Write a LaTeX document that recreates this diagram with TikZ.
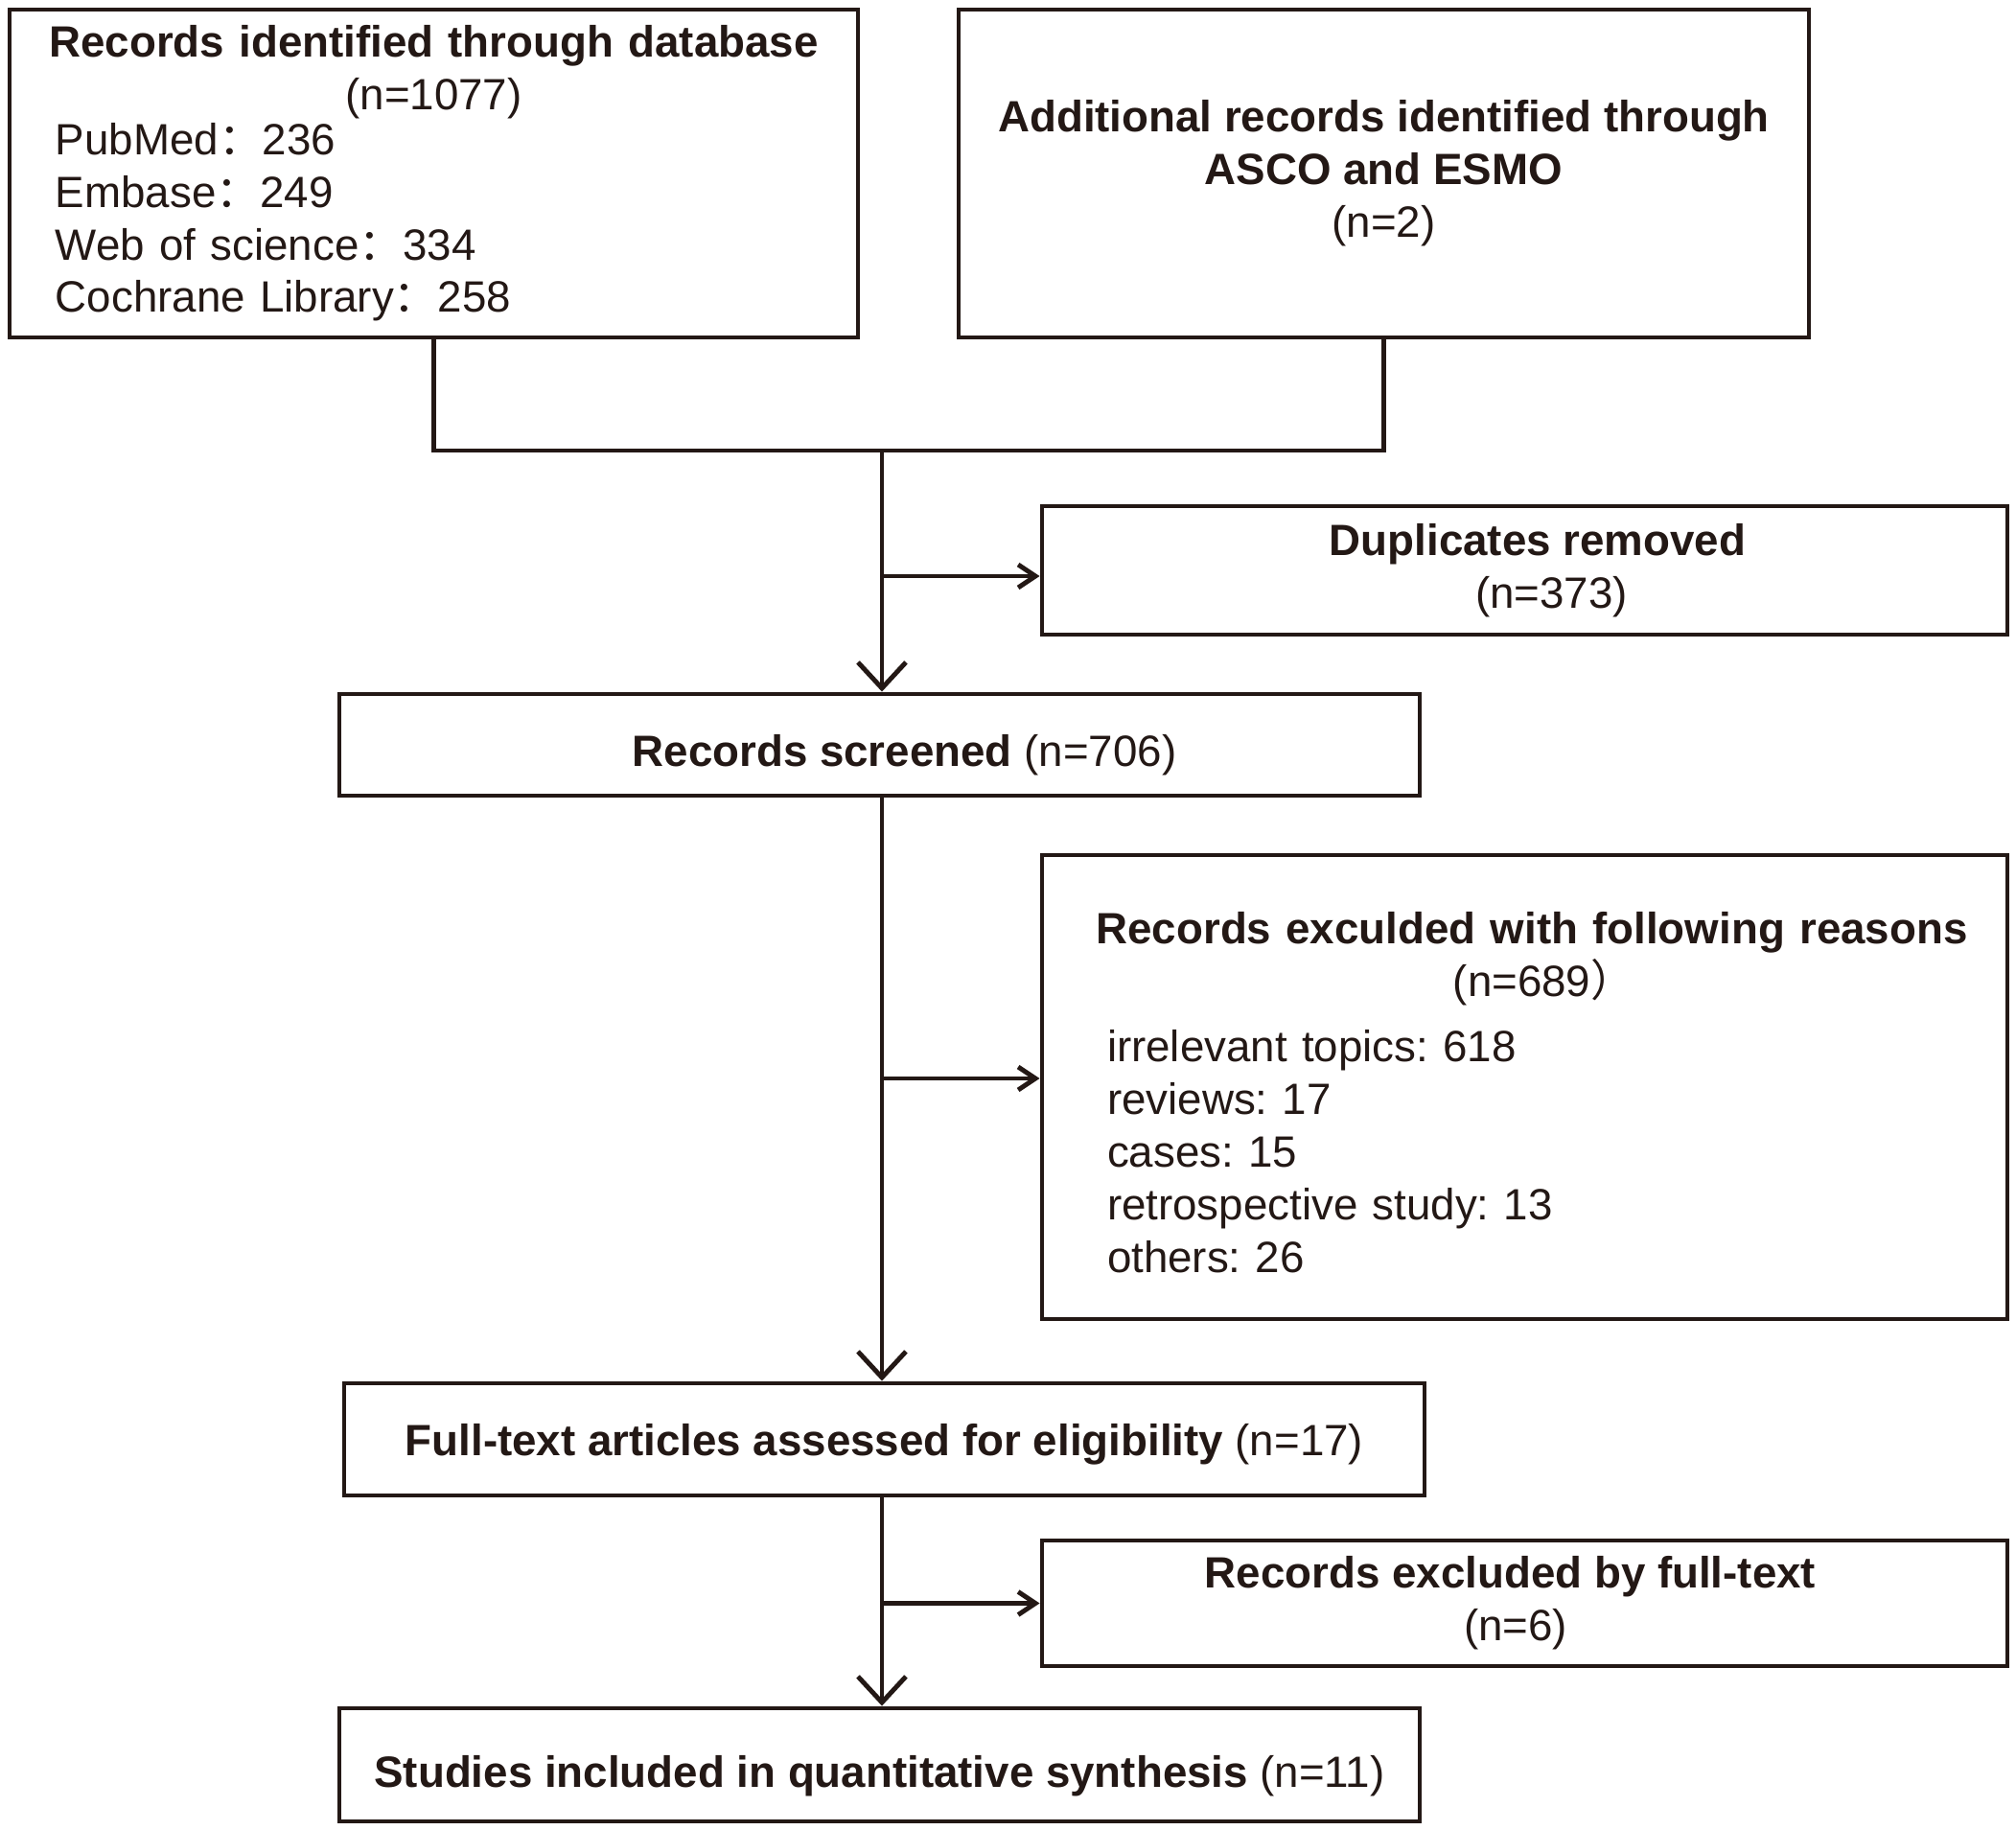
\documentclass[tikz,border=0pt]{standalone}
\usepackage{fontspec}
\setmainfont{Liberation Sans}
\newfontfamily\cjk{Noto Sans CJK SC}
\usetikzlibrary{arrows.meta,positioning}
\definecolor{ink}{HTML}{231815}
\frenchspacing
\tikzset{
mybox/.style={
  rectangle,
  draw=ink,
  line width=1.4pt,
  text=ink,
  inner sep=0pt,
  font=\fontsize{13}{15.6}\selectfont
  },
leftbox/.style={mybox, minimum width=10.07cm},
midbox/.style={mybox, minimum width=11.27cm, align=center, text depth=0pt}
}
\tikzset{
  link/.style={draw=ink, line width=1.4pt},
  downarrow/.style={link, -{Straight Barb[length=2.7mm,width=5mm,line width=1.4pt]}},
  sidearrow/.style={link, -{Straight Barb[length=1.8mm,width=2.4mm,line width=1.4pt]}}
}

\begin{document}
\begin{tikzpicture}
\useasboundingbox (0,0) rectangle (21.03,-19.09);

\node[mybox, minimum width=8.85cm, minimum height=3.42cm, text width=8.65cm]
at (4.525,-1.81)
(db)
{{\centering\textbf{Records identified through database}\\(n=1077)\par}\vspace{-0.08cm}
 {\raggedright\leftskip=0.38cm
  PubMed{\cjk：}236\\
  Embase{\cjk：}249\\
  Web of science{\cjk：}334\\
  Cochrane Library{\cjk：}258\par}};

\node[mybox, minimum width=8.87cm, minimum height=3.42cm, align=center]
at (14.435,-1.81)
(extra)
{\textbf{Additional records identified through}\\\textbf{ASCO and ESMO}\\(n=2)};

\node[leftbox, minimum height=1.34cm, align=center]
at (15.905,-5.95)
(dup)
{\hspace*{0.27cm}\textbf{Duplicates removed}\\\hspace*{0.56cm}(n=373)};

\node[midbox, minimum height=1.06cm, text height=12.9pt]
at (9.175,-7.77)
(screened)
{\hspace*{0.52cm}\textbf{Records screened} (n=706)};

\node[leftbox, minimum height=4.84cm, text width=9.87cm]
at (15.905,-11.34)
(excl)
{{\centering\hspace*{0.15cm}\textbf{Records exculded with following reasons}\\\hspace*{0.4cm}(n=689{\cjk）}\par}\vspace{0.14cm}
 {\raggedright\leftskip=0.58cm
  irrelevant topics: 618\\
  reviews: 17\\
  cases: 15\\
  retrospective study: 13\\
  others: 26\par}\vspace{-0.11cm}};

\node[midbox, minimum height=1.17cm, text height=9.8pt]
at (9.225,-15.015)
(fulltext)
{\textbf{Full-text articles assessed for eligibility} (n=17)};

\node[leftbox, minimum height=1.31cm, align=center]
at (15.905,-16.725)
(exclFt)
{\textbf{Records excluded by full-text}\hspace*{0.3cm}\\(n=6)\hspace*{0.19cm}};

\node[midbox, minimum height=1.18cm, text height=13.5pt]
at (9.175,-18.41)
(incl)
{\textbf{Studies included in quantitative synthesis} (n=11)};

\coordinate (join) at (9.2,-4.70);
\coordinate (dupIn) at ([yshift=-0.06cm]dup.west);
\coordinate (exclIn) at ([yshift=0.09cm]excl.west);

\begin{scope}
\draw[link]
  (db.south) |- (join) -| (extra.south);
\draw[downarrow]
  (join) -- (join |- screened.north);
\draw[downarrow]
  (join |- screened.south) -- (join |- fulltext.north);
\draw[downarrow]
  (join |- fulltext.south) -- (join |- incl.north);
\draw[sidearrow]
  (join |- dupIn) -- (dupIn);
\draw[sidearrow]
  (join |- exclIn) -- (exclIn);
\draw[sidearrow]
  (join |- exclFt.west) -- (exclFt.west);
\end{scope}
\end{tikzpicture}
\end{document}
